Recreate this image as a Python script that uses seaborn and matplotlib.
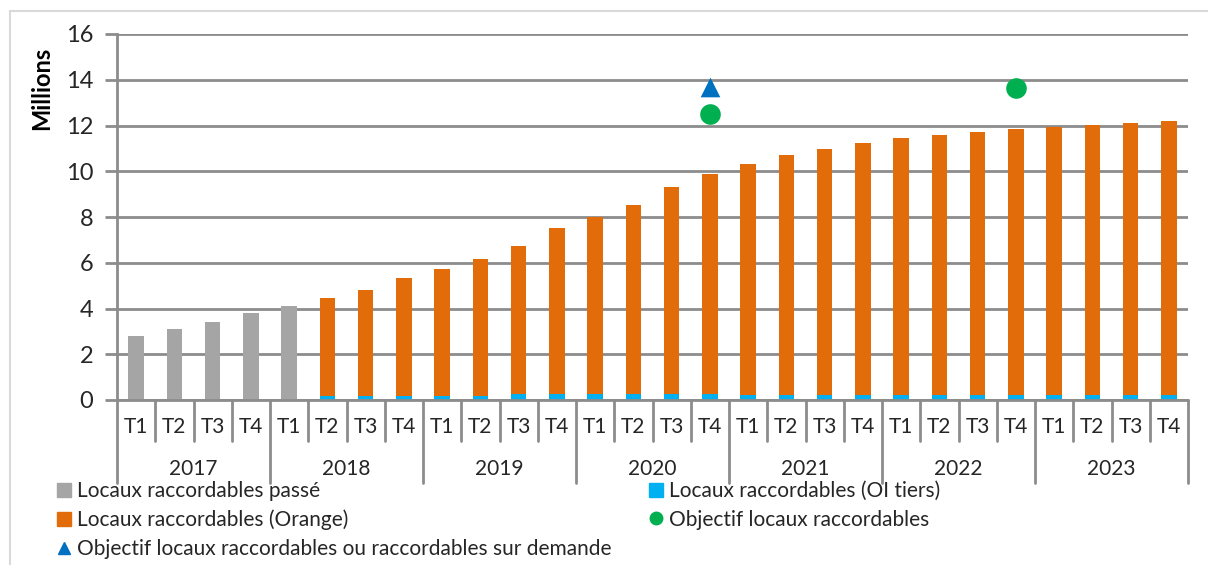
import matplotlib
matplotlib.use("Agg")
import matplotlib.pyplot as plt
import seaborn as sns
import pandas as pd
import numpy as np
from matplotlib.lines import Line2D
from matplotlib.patches import Patch, Rectangle

years = ["2017", "2018", "2019", "2020", "2021", "2022", "2023"]
quarters = ["T1", "T2", "T3", "T4"]
labels = [f"{y} {q}" for y in years for q in quarters]

# totals (millions)
past = [2.79, 3.12, 3.40, 3.79, 4.13]
totals_new = [4.46, 4.83, 5.32,
              5.72, 6.15, 6.72, 7.50,
              7.98, 8.52, 9.30, 9.86,
              10.32, 10.70, 10.98, 11.25,
              11.44, 11.60, 11.70, 11.86,
              11.95, 12.02, 12.10, 12.18]
oi_tiers = [0.17, 0.17, 0.18,
            0.18, 0.18, 0.26, 0.26,
            0.26, 0.26, 0.26, 0.26,
            0.24, 0.22, 0.22, 0.22,
            0.22, 0.22, 0.22, 0.22,
            0.22, 0.22, 0.22, 0.22]
objectif = {"2020 T4": 12.5, "2022 T4": 13.65}
objectif_demande = {"2020 T4": 13.7}

GRAY = "#A5A5A5"
ORANGE = "#E36C0A"
BLUE = "#00B0F0"
GREEN = "#00B050"
TRI = "#0070C0"
AXC = "#8C8C8C"

sns.set_theme(style="white")
plt.rcParams["font.family"] = ["Lato", "DejaVu Sans"]

fig = plt.figure(figsize=(12.08, 5.65), dpi=100)
ax = fig.add_axes([117 / 1208, 1 - 400 / 565, (1188 - 117) / 1208, (400 - 34) / 565])

df = pd.DataFrame({
    "label": labels,
    "total": past + totals_new,
    "serie": ["passé"] * len(past) + ["Orange"] * len(totals_new),
})
sns.barplot(data=df, x="label", y="total", hue="serie", order=labels,
            palette={"passé": GRAY, "Orange": ORANGE}, dodge=False,
            width=0.4, legend=False, ax=ax, saturation=1, linewidth=0)
sns.barplot(x=labels[len(past):], y=oi_tiers, order=labels, color=BLUE,
            width=0.4, ax=ax, saturation=1, linewidth=0)

pos = {l: i for i, l in enumerate(labels)}
sns.scatterplot(x=[pos[k] for k in objectif], y=list(objectif.values()),
                color=GREEN, s=220, marker="o", linewidth=0, ax=ax, zorder=5)
sns.scatterplot(x=[pos[k] for k in objectif_demande], y=list(objectif_demande.values()),
                color=TRI, s=200, marker="^", linewidth=0, ax=ax, zorder=5)

ax.set_xlim(-0.5, len(labels) - 0.5)
ax.set_ylim(0, 16)
ax.set_yticks(range(0, 17, 2))
ax.yaxis.grid(True, color=AXC, linewidth=2)
ax.set_axisbelow(True)
for s in ["top", "right", "bottom"]:
    ax.spines[s].set_visible(False)
ax.spines["left"].set_color(AXC)
ax.spines["left"].set_linewidth(2)
ax.tick_params(axis="y", length=9, width=2, color=AXC, labelsize=17, pad=8, left=True)
for t in ax.get_yticklabels():
    t.set_color("#262626")
ax.set_xticks([])
ax.set_xlabel("")
ax.set_ylabel("")
fig.text(42 / 1208, 1 - 88 / 565, "Millions", rotation=90, ha="center", va="center",
         fontsize=17, fontweight="bold", color="black")

# multi-level category axis
trans = ax.get_xaxis_transform()
ax.plot([-0.5, len(labels) - 0.5], [0, 0], color=AXC, lw=2, transform=trans, clip_on=False)
inner_bottom = -41 / 366
outer_bottom = -83 / 366
for i in range(len(labels) + 1):
    x = i - 0.5
    yb = outer_bottom if i % 4 == 0 else inner_bottom
    ax.plot([x, x], [0, yb], color=AXC, lw=2, transform=trans, clip_on=False)
for i, l in enumerate(labels):
    ax.text(i, -27 / 366, l.split()[1], transform=trans, ha="center", va="center",
            fontsize=15, color="#262626")
for j, y in enumerate(years):
    ax.text(j * 4 + 1.5, -69 / 366, y, transform=trans, ha="center", va="center",
            fontsize=15, color="#262626")

# outer frame
fig.patches.append(Rectangle((10 / 1208, -0.1), 1.2, 1 - 11 / 565 + 0.1,
                             transform=fig.transFigure, fill=False,
                             edgecolor="#D9D9D9", linewidth=1.5))

h1 = [Line2D([], [], marker="s", linestyle="", color=GRAY, markersize=10),
      Line2D([], [], marker="s", linestyle="", color=ORANGE, markersize=10),
      Line2D([], [], marker="^", linestyle="", color=TRI, markersize=8)]
l1 = ["Locaux raccordables passé", "Locaux raccordables (Orange)",
      "Objectif locaux raccordables ou raccordables sur demande"]
h2 = [Line2D([], [], marker="s", linestyle="", color=BLUE, markersize=10),
      Line2D([], [], marker="o", linestyle="", color=GREEN, markersize=9)]
l2 = ["Locaux raccordables (OI tiers)", "Objectif locaux raccordables"]
kw = dict(frameon=False, fontsize=15, handletextpad=0.05, labelspacing=0.42,
          handlelength=1.1, borderaxespad=0, borderpad=0)
fig.legend(h1, l1, loc="upper left", bbox_to_anchor=(53 / 1208, 1 - 481 / 565), **kw)
fig.legend(h2, l2, loc="upper left", bbox_to_anchor=(645 / 1208, 1 - 481 / 565), **kw)

fig.savefig("out.png", dpi=100)
